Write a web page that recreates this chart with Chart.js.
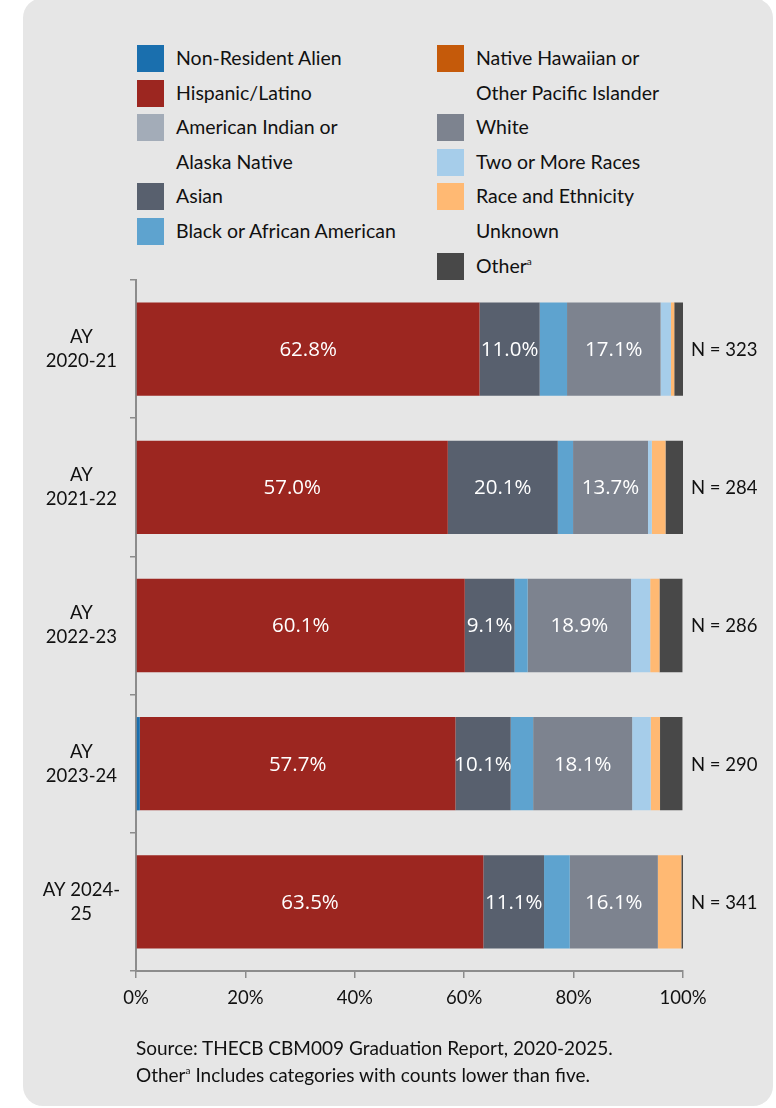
<!DOCTYPE html>
<html>
<head>
<meta charset="utf-8">
<script src="https://cdn.jsdelivr.net/npm/chart.js@4.4.1/dist/chart.umd.min.js"></script>
<style>
  body { margin: 0; background: #fff; width: 776px; height: 1108px; position: relative; overflow: hidden; font-family: Lato, sans-serif; }
  #panel { position: absolute; left: 23px; top: -2px; width: 750px; height: 1108px; background: #e6e6e6; border-radius: 20px; }
  #chart { position: absolute; left: 0; top: 0; }
  .lg { position: absolute; font-size: 19.5px; color: #111; line-height: 34.6px; white-space: nowrap; }
  .lg .sw { position: absolute; width: 27px; height: 27px; left: -39px; top: 4px; }
  #note { position: absolute; left: 136px; top: 1034px; font-size: 19px; color: #111; line-height: 27px; white-space: nowrap; }
  sup { font-size: 10px; line-height: 0; vertical-align: 8px; }
</style>
</head>
<body>
<div id="panel"></div>
<div id="legend"></div>
<canvas id="chart" width="776" height="1108"></canvas>
<div id="note">Source: THECB CBM009 Graduation Report, 2020-2025.<br>Other<sup>a</sup> Includes categories with counts lower than five.</div>
<script>
// categories (two-line labels) and group sizes
const years = [['AY', '2020-21'], ['AY', '2021-22'], ['AY', '2022-23'], ['AY', '2023-24'], ['AY 2024-', '25']];
const nCounts = [323, 284, 286, 290, 341];

// percent of graduates by race / ethnicity
const nonResident = [0, 0, 0, 0.7, 0];
const hispanic    = [62.8, 57.0, 60.1, 57.7, 63.5];
const amIndian    = [0, 0, 0, 0, 0];
const asian       = [11.0, 20.1, 9.1, 10.1, 11.1];
const black       = [5.0, 2.8, 2.4, 4.1, 4.7];
const nhpi        = [0, 0, 0, 0, 0];
const white       = [17.1, 13.7, 18.9, 18.1, 16.1];
const twoOrMore   = [1.9, 0.7, 3.5, 3.4, 0];
const unknown     = [0.6, 2.5, 1.7, 1.7, 4.3];
const other       = [1.6, 3.2, 4.2, 4.1, 0.3];

const xTicks = [0, 20, 40, 60, 80, 100];

const series = [
    { name: ['Non-Resident Alien'], data: nonResident, color: '#1a6fae', labeled: false },
    { name: ['Hispanic/Latino'], data: hispanic, color: '#9c2620', labeled: true },
    { name: ['American Indian or', 'Alaska Native'], data: amIndian, color: '#a3acb8', labeled: false },
    { name: ['Asian'], data: asian, color: '#58606e', labeled: true },
    { name: ['Black or African American'], data: black, color: '#5ea3cf', labeled: false },
    { name: ['Native Hawaiian or', 'Other Pacific Islander'], data: nhpi, color: '#c55a0a', labeled: false },
    { name: ['White'], data: white, color: '#7d838f', labeled: true },
    { name: ['Two or More Races'], data: twoOrMore, color: '#a6cdea', labeled: false },
    { name: ['Race and Ethnicity', 'Unknown'], data: unknown, color: '#ffb973', labeled: false },
    { name: ['Other<sup>a</sup>'], data: other, color: '#484848', labeled: false }
];

// legend: two columns, Excel style, each line 34.6px
let legendHtml = '';
let row = 0, col = 0;
series.forEach(function(s, i) {
    if (i === 5) { row = 0; col = 1; }
    const left = col === 0 ? 176 : 476;
    const top = 41 + row * 34.6;
    legendHtml += '<div class="lg" style="left:' + left + 'px;top:' + top + 'px">' +
        '<span class="sw" style="background:' + s.color + '"></span>' + s.name.join('<br>') + '</div>';
    row += s.name.length;
});
document.getElementById('legend').innerHTML = legendHtml;

Chart.defaults.font.family = 'Lato, sans-serif';
Chart.defaults.color = '#111';

const segmentLabels = {
    id: 'segmentLabels',
    afterDatasetsDraw(chart) {
        const ctx = chart.ctx;
        ctx.save();
        ctx.textBaseline = 'middle';
        chart.data.datasets.forEach(function(ds, di) {
            if (!series[di].labeled) return;
            chart.getDatasetMeta(di).data.forEach(function(bar, i) {
                ctx.fillStyle = '#fff';
                ctx.font = '20.5px "Open Sans"';
                ctx.textAlign = 'center';
                ctx.fillText(ds.data[i].toFixed(1) + '%', (bar.x + bar.base) / 2, bar.y + 1);
            });
        });
        const xs = chart.scales.x, ys = chart.scales.y;
        ctx.fillStyle = '#111';
        ctx.font = '18.5px Lato';
        ctx.textAlign = 'left';
        nCounts.forEach(function(n, i) {
            ctx.fillText('N = ' + n, xs.getPixelForValue(100) + 8, ys.getPixelForValue(i) + 1);
        });
        ctx.restore();
    }
};

new Chart(document.getElementById('chart'), {
    type: 'bar',
    data: {
        labels: years,
        datasets: series.map(function(s) {
            return {
                label: s.name.join(' '),
                data: s.data,
                backgroundColor: s.color,
                borderWidth: 0,
                barPercentage: 0.675,
                categoryPercentage: 1
            };
        })
    },
    options: {
        indexAxis: 'y',
        responsive: false,
        animation: false,
        layout: { padding: { top: 280, right: 93, bottom: 87, left: 0 } },
        plugins: { legend: { display: false }, tooltip: { enabled: false } },
        scales: {
            x: {
                stacked: true,
                min: 0,
                max: 100,
                afterBuildTicks: function(s) { s.ticks = xTicks.map(v => ({ value: v })); },
                afterFit: function(s) { s.height = 50; },
                ticks: { callback: v => v + '%', font: { size: 18.5 }, padding: 9, color: '#111' },
                grid: { drawOnChartArea: false, drawTicks: true, tickLength: 7, color: '#8c8c8c', lineWidth: 1.5 },
                border: { color: '#8c8c8c', width: 2 }
            },
            y: {
                stacked: true,
                afterFit: function(s) { s.width = 136; },
                ticks: { font: { size: 18.5, lineHeight: 1.3 }, crossAlign: 'center', padding: 10, color: '#111' },
                grid: { drawOnChartArea: false, drawTicks: true, tickLength: 6, color: '#8c8c8c', lineWidth: 1.5, offset: true },
                border: { color: '#8c8c8c', width: 2 }
            }
        }
    },
    plugins: [segmentLabels]
});
</script>
</body>
</html>
